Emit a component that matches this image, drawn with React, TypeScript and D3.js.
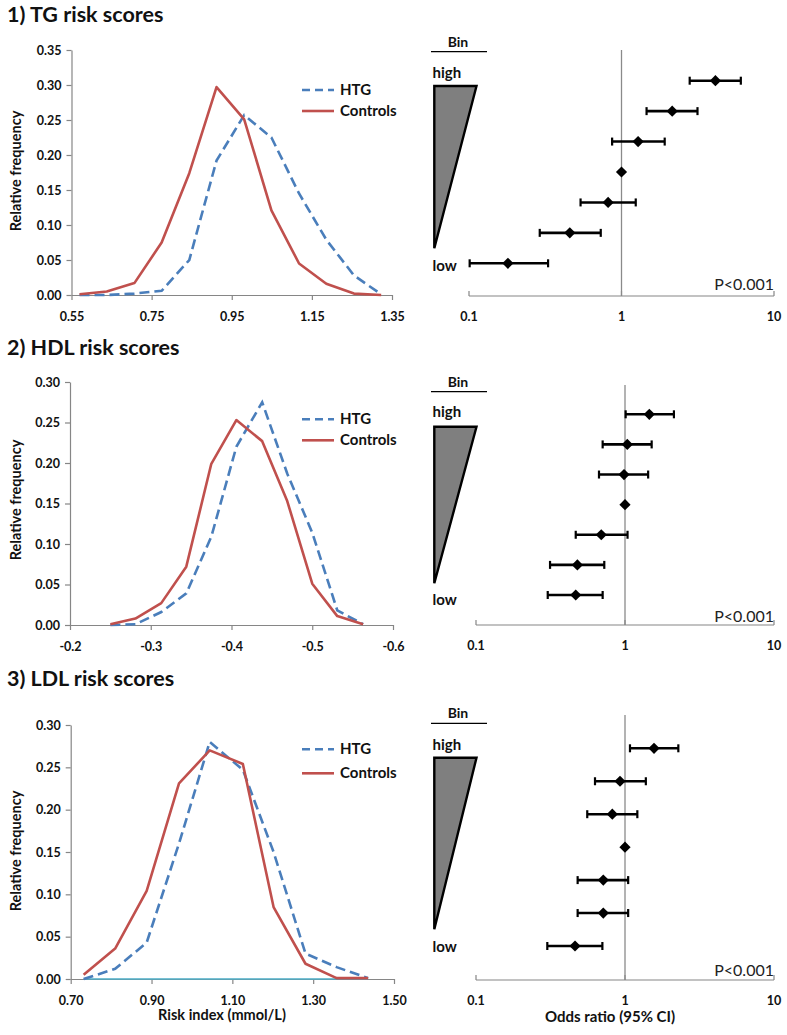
import React, { useEffect, useRef } from "react";
import * as d3 from "d3";

// ---------- Data ----------
const tgRisk = [0.570, 0.638, 0.707, 0.775, 0.844, 0.912, 0.981, 1.049, 1.118, 1.186, 1.255, 1.323];
const tgHTG = [0.000, 0.000, 0.002, 0.006, 0.050, 0.192, 0.257, 0.225, 0.145, 0.079, 0.028, 0.001];
const tgControls = [0.001, 0.005, 0.017, 0.075, 0.174, 0.297, 0.251, 0.121, 0.045, 0.016, 0.002, 0.000];

const hdlRisk = [-0.250, -0.281, -0.313, -0.344, -0.375, -0.406, -0.438, -0.469, -0.500, -0.531, -0.563];
const hdlHTG = [0.000, 0.001, 0.016, 0.039, 0.109, 0.220, 0.275, 0.187, 0.114, 0.018, 0.001];
const hdlControls = [0.001, 0.008, 0.027, 0.072, 0.199, 0.253, 0.227, 0.153, 0.051, 0.011, 0.001];

const ldlRisk = [0.732, 0.810, 0.888, 0.968, 1.044, 1.126, 1.202, 1.281, 1.358, 1.436];
const ldlHTG = [0.000, 0.012, 0.043, 0.160, 0.280, 0.247, 0.150, 0.030, 0.014, 0.001];
const ldlControls = [0.005, 0.036, 0.104, 0.231, 0.270, 0.254, 0.085, 0.018, 0.001, 0.001];

// Odds ratios per bin (high -> low)
const tgOR = [4.13, 2.15, 1.285, 1.0, 0.817, 0.458, 0.180];
const tgLow = [2.80, 1.46, 0.868, 1.0, 0.539, 0.291, 0.101];
const tgHigh = [6.06, 3.15, 1.92, 1.0, 1.24, 0.731, 0.33];

const hdlOR = [1.456, 1.036, 0.985, 1.0, 0.693, 0.479, 0.467];
const hdlLow = [1.01, 0.708, 0.669, 1.0, 0.467, 0.314, 0.303];
const hdlHigh = [2.13, 1.51, 1.43, 1.0, 1.04, 0.726, 0.708];

const ldlOR = [1.566, 0.926, 0.822, 1.0, 0.715, 0.715, 0.462];
const ldlLow = [1.08, 0.629, 0.558, 1.0, 0.481, 0.481, 0.301];
const ldlHigh = [2.28, 1.38, 1.21, 1.0, 1.05, 1.05, 0.705];

const tgXTicks = [0.55, 0.75, 0.95, 1.15, 1.35];
const hdlXTicks = [-0.2, -0.3, -0.4, -0.5, -0.6];
const ldlXTicks = [0.70, 0.90, 1.10, 1.30, 1.50];
const yTicks35 = [0, 0.05, 0.10, 0.15, 0.20, 0.25, 0.30, 0.35];
const yTicks30 = [0, 0.05, 0.10, 0.15, 0.20, 0.25, 0.30];
const orTicks = [0.1, 1, 10];
const orTickLabels = ["0.1", "1", "10"];

const titles = ["1) TG risk scores", "2) HDL risk scores", "3) LDL risk scores"];
const seriesNames = ["HTG", "Controls"];

// ---------- Style ----------
const FONT = "Lato, 'Open Sans', sans-serif";
const BLUE = "#4a7ebb";
const RED = "#c0504d";
const AXIS = "#868686";
const TEXT = "#111";

type Panel = {
  title: string;
  titleY: number;
  risk: number[];
  htg: number[];
  ctrl: number[];
  xDomain: [number, number];
  xRange: [number, number];
  xTicks: number[];
  xDigits: number;
  yMax: number;
  yTicks: number[];
  y0: number;
  yTop: number;
  yLabelY: number;
  legY: number;
  legGap: number;
  or: number[];
  lo: number[];
  hi: number[];
  fRange: [number, number];
  fAxisY: number;
  rowTop: number;
  rowBottom: number;
  vTop: number;
  binY: number;
  highY: number;
  triTop: number;
  triBot: number;
  lowY: number;
  pY: number;
  axisColor?: string;
};

const panels: Panel[] = [
  {
    title: titles[0], titleY: 22, risk: tgRisk, htg: tgHTG, ctrl: tgControls,
    xDomain: [0.55, 1.35], xRange: [71.5, 392], xTicks: tgXTicks, xDigits: 2,
    yMax: 0.35, yTicks: yTicks35, y0: 295, yTop: 50, yLabelY: 171,
    legY: 90, legGap: 21,
    or: tgOR, lo: tgLow, hi: tgHigh, fRange: [469, 774], fAxisY: 296,
    rowTop: 80.7, rowBottom: 263.3, vTop: 50,
    binY: 46.7, highY: 77.5, triTop: 86, triBot: 248.3, lowY: 270.5, pY: 290,
  },
  {
    title: titles[1], titleY: 355, risk: hdlRisk, htg: hdlHTG, ctrl: hdlControls,
    xDomain: [-0.2, -0.6], xRange: [70, 393], xTicks: hdlXTicks, xDigits: 1,
    yMax: 0.30, yTicks: yTicks30, y0: 625, yTop: 382, yLabelY: 500,
    legY: 419.3, legGap: 21,
    or: hdlOR, lo: hdlLow, hi: hdlHigh, fRange: [476, 774], fAxisY: 625,
    rowTop: 414.3, rowBottom: 595, vTop: 385,
    binY: 386.7, highY: 416.7, triTop: 426.7, triBot: 583.3, lowY: 605, pY: 621.7,
  },
  {
    title: titles[2], titleY: 686, risk: ldlRisk, htg: ldlHTG, ctrl: ldlControls,
    xDomain: [0.70, 1.50], xRange: [70.7, 394], xTicks: ldlXTicks, xDigits: 2,
    yMax: 0.30, yTicks: yTicks30, y0: 979, yTop: 725, yLabelY: 851,
    legY: 749.3, legGap: 24,
    or: ldlOR, lo: ldlLow, hi: ldlHigh, fRange: [476, 774], fAxisY: 980,
    rowTop: 748.3, rowBottom: 946, vTop: 715,
    binY: 718.3, highY: 750, triTop: 757.7, triBot: 929.3, lowY: 951.7, pY: 976,
    axisColor: "#4bacc6",
  },
];

function drawPanel(svg: d3.Selection<SVGSVGElement, unknown, null, undefined>, p: Panel) {
  const g = svg.append("g");

  // Title
  g.append("text").attr("x", 7).attr("y", p.titleY).text(p.title)
    .attr("font-family", FONT).attr("font-weight", 700).attr("font-size", 21.5).attr("fill", TEXT);

  // ---- Left: frequency distribution ----
  const x = d3.scaleLinear().domain(p.xDomain).range(p.xRange);
  const y = d3.scaleLinear().domain([0, p.yMax]).range([p.y0, p.yTop]);

  const yAxis = g.append("g").attr("transform", `translate(${p.xRange[0]},0)`)
    .call(d3.axisLeft(y).tickValues(p.yTicks).tickFormat((d) => (+d).toFixed(2)).tickSize(5).tickSizeOuter(0).tickPadding(5));
  const xAxis = g.append("g").attr("transform", `translate(0,${p.y0})`)
    .call(d3.axisBottom(x).tickValues(p.xTicks).tickFormat((d) => (+d).toFixed(p.xDigits)).tickSize(5).tickSizeOuter(0).tickPadding(12));
  [yAxis, xAxis].forEach((a) => {
    a.select(".domain").attr("stroke", AXIS).attr("stroke-width", 1.2);
    a.selectAll(".tick line").attr("stroke", AXIS).attr("stroke-width", 1.2);
    a.selectAll("text").attr("font-family", FONT).attr("font-weight", 700).attr("font-size", 12.5).attr("fill", TEXT);
  });
  if (p.axisColor) {
    g.append("line").attr("x1", x(p.risk[0])).attr("x2", x(p.risk[p.risk.length - 1]))
      .attr("y1", y(0)).attr("y2", y(0)).attr("stroke", p.axisColor).attr("stroke-width", 1.5);
  }

  // Y label
  g.append("text").attr("transform", `translate(17,${p.yLabelY}) rotate(-90)`)
    .attr("text-anchor", "middle").attr("dominant-baseline", "middle")
    .attr("font-family", FONT).attr("font-weight", 700).attr("font-size", 14.5).attr("fill", TEXT)
    .text("Relative frequency");

  const idx = d3.range(p.risk.length);
  const lineFor = (vals: number[]) => d3.line<number>().x((i) => x(p.risk[i])).y((i) => y(vals[i]))(idx);
  g.append("path").attr("d", lineFor(p.htg)).attr("fill", "none").attr("stroke", BLUE)
    .attr("stroke-width", 2.6).attr("stroke-dasharray", "10,5");
  g.append("path").attr("d", lineFor(p.ctrl)).attr("fill", "none").attr("stroke", RED)
    .attr("stroke-width", 2.6).attr("stroke-linejoin", "round");

  // Legend
  seriesNames.forEach((name, i) => {
    const ly = p.legY + i * p.legGap;
    g.append("line").attr("x1", 302).attr("x2", 334).attr("y1", ly).attr("y2", ly)
      .attr("stroke", i === 0 ? BLUE : RED).attr("stroke-width", 2.6)
      .attr("stroke-dasharray", i === 0 ? "8,5" : null);
    g.append("text").attr("x", 340).attr("y", ly + 5).text(name)
      .attr("font-family", FONT).attr("font-weight", 700).attr("font-size", 15).attr("fill", TEXT);
  });

  // ---- Right: forest plot ----
  const fx = d3.scaleLog().domain([0.1, 10]).range(p.fRange);
  const ry = d3.scalePoint<number>().domain(d3.range(p.or.length)).range([p.rowTop, p.rowBottom]);

  g.append("line").attr("x1", p.fRange[0]).attr("x2", p.fRange[1]).attr("y1", p.fAxisY).attr("y2", p.fAxisY)
    .attr("stroke", AXIS).attr("stroke-width", 1.2);
  orTicks.forEach((t, i) => {
    g.append("line").attr("x1", fx(t)).attr("x2", fx(t)).attr("y1", p.fAxisY - 5).attr("y2", p.fAxisY)
      .attr("stroke", AXIS).attr("stroke-width", 1.2);
    g.append("text").attr("x", fx(t)).attr("y", p.fAxisY + 25).attr("text-anchor", "middle")
      .attr("font-family", FONT).attr("font-weight", 700).attr("font-size", 12.5).attr("fill", TEXT)
      .text(orTickLabels[i]);
  });
  g.append("line").attr("x1", fx(1)).attr("x2", fx(1)).attr("y1", p.vTop).attr("y2", p.fAxisY)
    .attr("stroke", "#8a8a8a").attr("stroke-width", 1.3);

  const diamond = d3.symbol().type((d3 as any).symbolDiamond2 || d3.symbolDiamond).size(80)();
  p.or.forEach((v, i) => {
    const cy = ry(i)!;
    if (p.lo[i] !== p.hi[i]) {
      g.append("line").attr("x1", fx(p.lo[i])).attr("x2", fx(p.hi[i])).attr("y1", cy).attr("y2", cy)
        .attr("stroke", "#000").attr("stroke-width", 2.6);
      [p.lo[i], p.hi[i]].forEach((c) => {
        g.append("line").attr("x1", fx(c)).attr("x2", fx(c)).attr("y1", cy - 4).attr("y2", cy + 4)
          .attr("stroke", "#000").attr("stroke-width", 2.2);
      });
    }
    g.append("path").attr("d", diamond).attr("transform", `translate(${fx(v)},${cy})`).attr("fill", "#000");
  });

  // Bin legend
  g.append("text").attr("x", 458).attr("y", p.binY).attr("text-anchor", "middle").text("Bin")
    .attr("font-family", FONT).attr("font-weight", 700).attr("font-size", 14).attr("fill", TEXT);
  g.append("line").attr("x1", 431).attr("x2", 487).attr("y1", p.binY + 5).attr("y2", p.binY + 5)
    .attr("stroke", "#000").attr("stroke-width", 1.2);
  g.append("text").attr("x", 432.5).attr("y", p.highY).text("high")
    .attr("font-family", FONT).attr("font-weight", 700).attr("font-size", 15).attr("fill", TEXT);
  g.append("path").attr("d", `M434.3,${p.triTop}L476.5,${p.triTop}L434.3,${p.triBot}Z`)
    .attr("fill", "#7f7f7f").attr("stroke", "#000").attr("stroke-width", 2.4).attr("stroke-linejoin", "miter");
  g.append("text").attr("x", 432.5).attr("y", p.lowY).text("low")
    .attr("font-family", FONT).attr("font-weight", 700).attr("font-size", 15).attr("fill", TEXT);

  g.append("text").attr("x", 774).attr("y", p.pY).attr("text-anchor", "end").text("P<0.001")
    .attr("font-family", FONT).attr("font-weight", 400).attr("font-size", 16).attr("fill", "#222");
}

export default function App() {
  const ref = useRef<SVGSVGElement>(null);
  useEffect(() => {
    const svg = d3.select(ref.current!) as d3.Selection<SVGSVGElement, unknown, null, undefined>;
    svg.selectAll("*").remove();
    panels.forEach((p) => drawPanel(svg, p));
    svg.append("text").attr("x", 222).attr("y", 1020).attr("text-anchor", "middle").text("Risk index (mmol/L)")
      .attr("font-family", FONT).attr("font-weight", 700).attr("font-size", 14.5).attr("fill", TEXT);
    svg.append("text").attr("x", 610).attr("y", 1022).attr("text-anchor", "middle").text("Odds ratio (95% CI)")
      .attr("font-family", FONT).attr("font-weight", 700).attr("font-size", 15).attr("fill", TEXT);
  }, []);
  return (
    <svg ref={ref} width={787} height={1035}
      style={{ position: "absolute", left: 0, top: 0, background: "#fff", display: "block" }} />
  );
}
